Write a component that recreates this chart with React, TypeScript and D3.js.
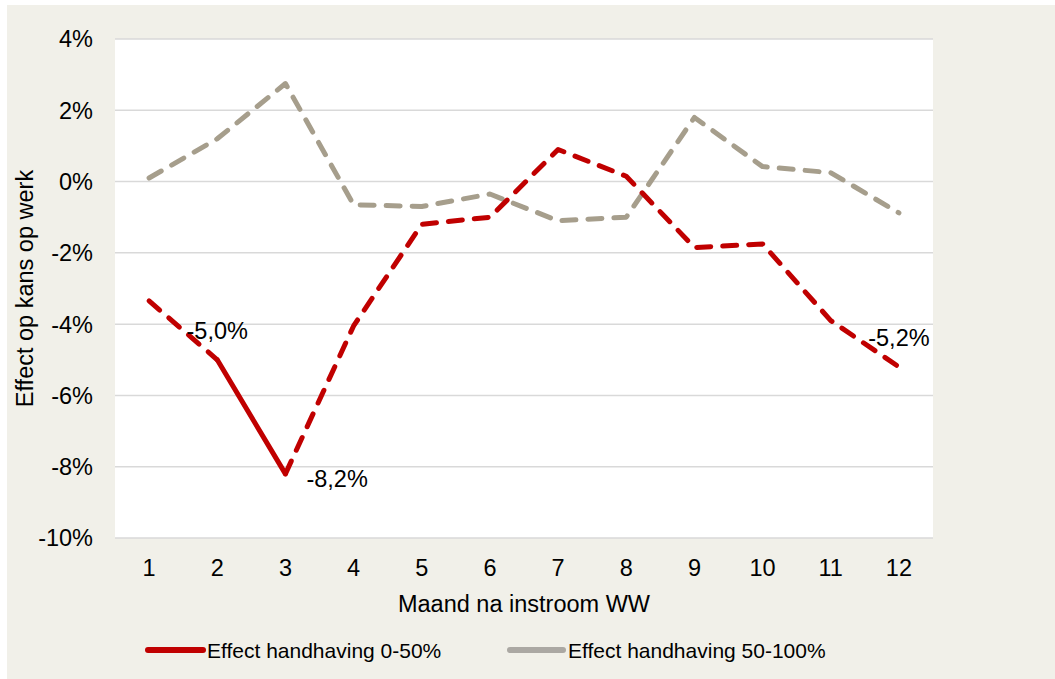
import React from "react";
import * as d3 from "d3";

const months = [1, 2, 3, 4, 5, 6, 7, 8, 9, 10, 11, 12];
const effectLow = [-3.35, -5.0, -8.2, -4.05, -1.2, -1.0, 0.9, 0.15, -1.85, -1.75, -3.9, -5.2];
const effectHigh = [0.1, 1.2, 2.75, -0.65, -0.7, -0.35, -1.1, -1.0, 1.8, 0.42, 0.25, -0.88];
const yTicks = [4, 2, 0, -2, -4, -6, -8, -10];
const labels = [
  { month: 2, value: -5.0, text: "-5,0%", pos: "above" },
  { month: 3, value: -8.2, text: "-8,2%", pos: "right" },
  { month: 12, value: -5.2, text: "-5,2%", pos: "above" },
];
const seriesNames = ["Effect handhaving 0-50%", "Effect handhaving 50-100%"];

const RED = "#C00000";
const GRAY = "#A69E8C";
const BG = "#F1F0E9";
const FONT = "Liberation Sans, Arial, sans-serif";

export default function App() {
  const W = 1055, H = 679;
  const left = 115, right = 933, top = 39, bottom = 538;
  const x = d3.scalePoint<number>().domain(months).range([left, right]).padding(0.5);
  const y = d3.scaleLinear().domain([-10, 4]).range([bottom, top]);
  const line = d3
    .line<[number, number]>()
    .x((d) => x(d[0]) as number)
    .y((d) => y(d[1]));

  const low: [number, number][] = months.map((m, i) => [m, effectLow[i]]);
  const high: [number, number][] = months.map((m, i) => [m, effectHigh[i]]);
  const lowA = low.slice(0, 2);
  const lowSolid = low.slice(1, 3);
  const lowB = low.slice(2);

  const dash = "14,12";
  const sw = 5;
  const fs = 23.5;

  return (
    <svg
      width={W}
      height={H}
      style={{ position: "absolute", left: 0, top: 0, fontFamily: FONT }}
    >
      <rect x={0} y={0} width={W} height={H} fill="#ffffff" />
      <rect x={7} y={5} width={W - 7} height={H - 5} fill={BG} />
      <rect x={left} y={top} width={right - left} height={bottom - top} fill="#ffffff" />
      {yTicks.map((t) => (
        <g key={t}>
          <line x1={left} x2={right} y1={y(t)} y2={y(t)} stroke="#D9D9D9" strokeWidth={1.5} />
          <text x={93} y={y(t)} dy="0.36em" textAnchor="end" fontSize={fs} fill="#000">
            {t}%
          </text>
        </g>
      ))}
      {months.map((m) => (
        <text key={m} x={x(m)} y={576} textAnchor="middle" fontSize={fs} fill="#000">
          {m}
        </text>
      ))}
      <text x={(left + right) / 2 - 0} y={612} textAnchor="middle" fontSize={fs} fill="#000">
        Maand na instroom WW
      </text>
      <text
        transform={`translate(33,${(top + bottom) / 2}) rotate(-90)`}
        textAnchor="middle"
        fontSize={fs}
        fill="#000"
      >
        Effect op kans op werk
      </text>

      <path d={line(high) || ""} fill="none" stroke={GRAY} strokeWidth={sw} strokeDasharray={dash} strokeLinecap="round" strokeLinejoin="round" />
      <path d={line(lowA) || ""} fill="none" stroke={RED} strokeWidth={sw} strokeDasharray={dash} strokeLinecap="round" strokeLinejoin="round" />
      <path d={line(lowSolid) || ""} fill="none" stroke={RED} strokeWidth={sw} strokeLinecap="round" strokeLinejoin="round" />
      <path d={line(lowB) || ""} fill="none" stroke={RED} strokeWidth={sw} strokeDasharray={dash} strokeLinecap="round" strokeLinejoin="round" />

      {labels.map((l) => {
        const px = x(l.month) as number;
        const py = y(l.value);
        return l.pos === "above" ? (
          <text key={l.text} x={px} y={py - 21} textAnchor="middle" fontSize={fs} fill="#000">
            {l.text}
          </text>
        ) : (
          <text key={l.text} x={px + 21} y={py + 13} textAnchor="start" fontSize={fs} fill="#000">
            {l.text}
          </text>
        );
      })}

      <g>
        <line x1={148} x2={203} y1={650} y2={650} stroke={RED} strokeWidth={6} strokeLinecap="round" />
        <text x={207} y={650} dy="0.36em" fontSize={21} fill="#000">
          {seriesNames[0]}
        </text>
        <line x1={510} x2={563} y1={650} y2={650} stroke="#ABA8A3" strokeWidth={6} strokeLinecap="round" />
        <text x={568} y={650} dy="0.36em" fontSize={21} fill="#000">
          {seriesNames[1]}
        </text>
      </g>
    </svg>
  );
}
